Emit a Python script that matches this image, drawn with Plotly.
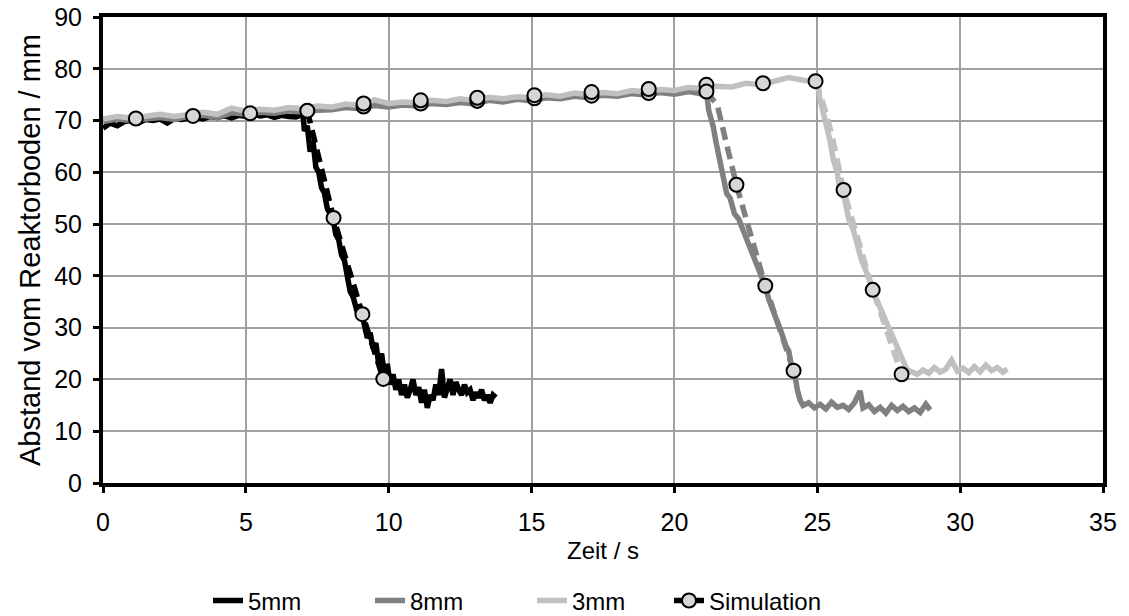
import plotly.graph_objects as go

# ---- experimental data: 5 mm ----
t_5mm = [0, 0.25, 0.5, 0.75, 1, 1.25, 1.5, 1.75, 2, 2.25, 2.5, 2.75, 3, 3.25, 3.5, 3.75, 4, 4.25, 4.5, 4.75,
         5, 5.25, 5.5, 5.75, 6, 6.25, 6.5, 6.75, 7,
         7.05, 7.15, 7.25, 7.35, 7.45, 7.55, 7.65, 7.75, 7.85, 7.95, 8.05, 8.15, 8.25, 8.35, 8.45, 8.55, 8.65,
         8.75, 8.85, 8.95, 9.05, 9.15, 9.25, 9.35, 9.45, 9.55, 9.65, 9.75, 9.85, 9.95, 10.05, 10.15, 10.25,
         10.35, 10.45, 10.55, 10.65, 10.75, 10.85, 10.95, 11.05, 11.15, 11.25, 11.35, 11.45, 11.55, 11.65,
         11.75, 11.85, 11.95, 12.05, 12.15, 12.25, 12.35, 12.45, 12.55, 12.65, 12.75, 12.85, 12.95, 13.05,
         13.15, 13.25, 13.35, 13.45, 13.55, 13.65, 13.75]
y_5mm = [68.5, 69.5, 69.0, 69.8, 70.0, 69.6, 70.2, 70.0, 70.3, 69.5, 70.4, 70.2, 70.5, 70.6, 70.3, 70.8, 70.6, 70.9,
         70.5, 71.0, 70.8, 71.2, 70.9, 71.1, 70.6, 71.0, 70.8, 70.7, 71.2,
         68.0, 69.0, 64.0, 66.0, 61.0, 60.0, 57.0, 56.0, 53.0, 52.0, 51.0, 48.0, 47.0, 44.0, 43.0, 40.0, 37.0,
         36.0, 34.0, 32.0, 33.0, 30.0, 28.0, 29.0, 26.0, 27.0, 23.0, 25.0, 21.0, 23.0, 19.0, 21.0, 18.0,
         20.0, 17.0, 19.0, 16.5, 18.0, 20.0, 17.0, 18.5, 15.5, 18.0, 14.5, 17.0, 16.0, 19.0,
         17.0, 22.0, 16.5, 18.0, 20.0, 17.0, 19.5, 18.0, 17.0, 19.0, 17.5, 18.0, 16.0, 17.5,
         16.5, 18.0, 16.0, 17.0, 15.5, 17.0, 16.5]

# ---- experimental data: 8 mm ----
t_8mm = [0, 0.5, 1, 1.5, 2, 2.5, 3, 3.5, 4, 4.5, 5, 5.5, 6, 6.5, 7, 7.5, 8, 8.5, 9, 9.5, 10, 10.5, 11, 11.5,
         12, 12.5, 13, 13.5, 14, 14.5, 15, 15.5, 16, 16.5, 17, 17.5, 18, 18.5, 19, 19.5, 20, 20.5, 21,
         21.13, 21.2, 21.36, 21.45, 21.6, 21.7, 21.83, 21.95, 22.1, 22.25, 22.4, 22.55, 22.7, 22.85, 23.0,
         23.18, 23.3, 23.45, 23.6, 23.75, 23.9, 24.0, 24.1, 24.2, 24.3, 24.4, 24.5,
         24.7, 24.9, 25.1, 25.3, 25.5, 25.7, 25.9, 26.1, 26.3, 26.5, 26.6, 26.8, 27.0, 27.2, 27.4, 27.6,
         27.8, 28.0, 28.2, 28.4, 28.6, 28.8, 28.95]
y_8mm = [69.8, 70.3, 70.0, 70.4, 70.6, 70.2, 70.8, 71.0, 70.6, 71.5, 71.2, 71.6, 71.4, 71.9, 71.6, 72.0, 72.1,
         72.5, 72.3, 72.9, 72.6, 73.0, 72.8, 73.3, 73.1, 73.5, 73.2, 73.9, 73.6, 74.1, 73.8, 74.4, 74.2, 74.7,
         74.4, 74.9, 74.7, 75.2, 74.9, 75.4, 75.1, 75.6, 75.3,
         75.0, 72.0, 68.8, 66.0, 62.4, 60.0, 55.9, 55.0, 52.0, 51.0, 49.0, 47.0, 44.5, 43.0, 40.5,
         38.0, 35.5, 33.5, 31.0, 29.0, 26.5, 25.5, 22.5, 21.5, 18.0, 16.0, 15.0,
         15.5, 14.5, 15.2, 14.3, 15.6, 14.6, 15.0, 14.2, 15.5, 17.8, 14.5, 15.1, 13.8, 14.6, 13.5, 15.0,
         14.0, 14.8, 13.8, 14.5, 13.6, 15.2, 14.1]

# ---- experimental data: 3 mm ----
t_3mm = [0, 0.5, 1, 1.5, 2, 2.5, 3, 3.5, 4, 4.5, 5, 5.5, 6, 6.5, 7, 7.5, 8, 8.5, 9, 9.5, 10, 10.5, 11, 11.5,
         12, 12.5, 13, 13.5, 14, 14.5, 15, 15.5, 16, 16.5, 17, 17.5, 18, 18.5, 19, 19.5, 20, 20.5, 21, 21.5,
         22, 22.5, 23, 23.5, 24, 24.5, 25,
         25.1, 25.2, 25.33, 25.45, 25.56, 25.7, 25.8, 25.95, 26.1, 26.26, 26.4, 26.55, 26.7, 26.85, 27.0,
         27.15, 27.3, 27.43, 27.6, 27.75, 27.9, 28.0, 28.13, 28.3, 28.5,
         28.7, 28.9, 29.1, 29.3, 29.5, 29.7, 29.9, 30.1, 30.3, 30.5, 30.7, 30.9, 31.1, 31.3, 31.5, 31.65]
y_3mm = [70.3, 70.8, 70.5, 70.9, 71.2, 70.8, 71.3, 71.6, 71.2, 72.4, 71.8, 72.2, 72.0, 72.5, 72.3, 72.8, 72.6,
         73.2, 72.9, 74.0, 73.3, 73.6, 73.4, 73.9, 73.7, 74.2, 73.9, 74.5, 74.2, 74.6, 74.4, 75.0, 74.7, 75.3,
         75.0, 75.4, 75.2, 75.8, 75.5, 76.0, 75.8, 76.4, 76.2, 76.6, 76.5, 77.2, 76.9, 77.6, 78.3, 77.8, 77.4,
         74.0, 72.0, 68.8, 66.0, 62.4, 60.0, 56.0, 55.0, 51.0, 48.9, 46.0, 43.0, 41.0, 38.5, 36.5,
         34.5, 32.5, 30.8, 28.5, 26.5, 25.0, 23.5, 22.0, 21.5, 21.0,
         21.8, 21.2, 22.3, 21.4, 22.0, 23.7, 21.6, 22.2, 21.3, 22.5, 21.5, 22.8, 21.7, 22.3, 21.4, 22.0]

# ---- simulation data ----
sim_flat_t = [1.15, 3.15, 5.15]
sim_flat_y = [70.4, 70.9, 71.4]

sim5_t = [7.15, 8.07, 9.08, 9.81]
sim5_y = [71.9, 51.2, 32.6, 20.1]

sim8_flat_t = [9.12, 11.12, 13.1, 15.1, 17.1, 19.1]
sim8_flat_y = [72.7, 73.3, 73.8, 74.3, 74.8, 75.3]
sim8_t = [21.12, 21.5, 21.8, 22.17, 23.18, 24.17]
sim8_y = [75.6, 73.0, 66.0, 57.6, 38.1, 21.7]
sim8_mt = [21.12, 22.17, 23.18, 24.17]
sim8_my = [75.6, 57.6, 38.1, 21.7]

sim3_flat_t = [9.12, 11.12, 13.1, 15.1, 17.1, 19.1, 21.12, 23.1]
sim3_flat_y = [73.3, 73.9, 74.4, 74.9, 75.5, 76.1, 76.9, 77.2]
sim3_t = [24.94, 25.2, 25.5, 25.92, 26.94, 27.95]
sim3_y = [77.6, 73.4, 67.5, 56.6, 37.3, 21.0]
sim3_mt = [24.94, 25.92, 26.94, 27.95]
sim3_my = [77.6, 56.6, 37.3, 21.0]

x_ticks = [0, 5, 10, 15, 20, 25, 30, 35]
y_ticks = [0, 10, 20, 30, 40, 50, 60, 70, 80, 90]

FONT = "Liberation Sans, Arial, sans-serif"
C5, C8, C3 = "#000000", "#808080", "#c0c0c0"
MFILL = "#d6d6d6"
DASH = "13px,7px"
LW = 5.5

mk = dict(symbol="circle", size=14, color=MFILL, line=dict(color="black", width=2))

fig = go.Figure()
fig.add_trace(go.Scatter(x=t_5mm, y=y_5mm, mode="lines", name="5mm",
                         line=dict(color=C5, width=LW)))
fig.add_trace(go.Scatter(x=t_8mm, y=y_8mm, mode="lines", name="8mm",
                         line=dict(color=C8, width=LW)))
fig.add_trace(go.Scatter(x=t_3mm, y=y_3mm, mode="lines", name="3mm",
                         line=dict(color=C3, width=LW)))

fig.add_trace(go.Scatter(x=sim8_t, y=sim8_y, mode="lines", showlegend=False,
                         line=dict(color=C8, width=LW, dash=DASH)))
fig.add_trace(go.Scatter(x=sim3_t, y=sim3_y, mode="lines", showlegend=False,
                         line=dict(color=C3, width=LW, dash=DASH)))
for xs, ys in [(sim_flat_t, sim_flat_y), (sim8_flat_t, sim8_flat_y), (sim3_flat_t, sim3_flat_y),
               (sim8_mt, sim8_my), (sim3_mt, sim3_my)]:
    fig.add_trace(go.Scatter(x=xs, y=ys, mode="markers", showlegend=False, marker=mk))
fig.add_trace(go.Scatter(x=sim5_t, y=sim5_y, mode="lines+markers", name="Simulation", legend="legend2",
                         line=dict(color=C5, width=LW, dash=DASH), marker=mk))

axis_common = dict(
    showline=True, linecolor="black", linewidth=4, mirror=True,
    showgrid=True, gridcolor="#a0a0a0", gridwidth=1.5,
    ticks="outside", ticklen=6, tickwidth=3, tickcolor="black",
    tickfont=dict(family=FONT, size=25, color="black"),
    zeroline=False, automargin=False, ticklabeloverflow="allow",
)

legend_common = dict(orientation="h", yanchor="middle", y=-0.253,
                     font=dict(family=FONT, size=24, color="black"),
                     bgcolor="rgba(0,0,0,0)")

fig.update_layout(
    width=1129, height=616,
    margin=dict(l=103, r=26, t=17, b=133, autoexpand=False),
    paper_bgcolor="white", plot_bgcolor="white",
    font=dict(family=FONT, size=20, color="black"),
    xaxis=dict(range=[0, 35], tickvals=x_ticks, ticklabelstandoff=8,
               title=dict(text="Zeit / s", font=dict(family=FONT, size=24), standoff=8),
               **axis_common),
    yaxis=dict(range=[0, 90], tickvals=y_ticks, ticklabelstandoff=6,
               title=dict(text="Abstand vom Reaktorboden / mm", font=dict(family=FONT, size=29), standoff=6),
               **axis_common),
    legend=dict(x=0.105, xanchor="left", entrywidth=117, entrywidthmode="pixels", **legend_common),
    legend2=dict(x=0.566, xanchor="left", **legend_common),
)

# remove the default 8 px page margin so the 1129x616 figure fills the window exactly
fig.write_html("out.html", config={"displayModeBar": False},
               post_script="document.body.style.margin='0px';")
